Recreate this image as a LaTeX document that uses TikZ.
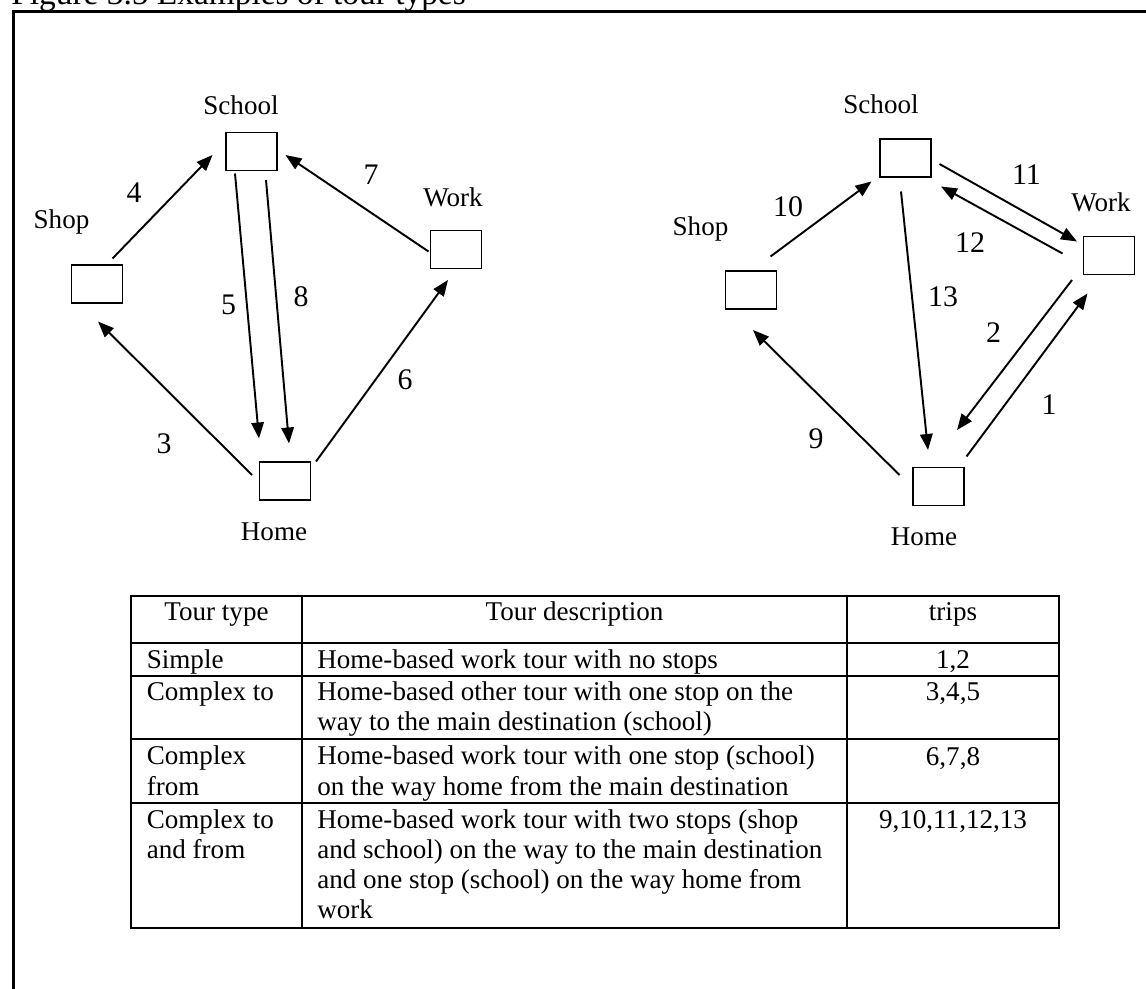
\documentclass[tikz,border=0pt]{standalone}
\usepackage{fontspec}
\setmainfont{Liberation Serif}
\usetikzlibrary{arrows.meta}

\tikzset{
  stopbox/.style={draw,line width=1.1pt,minimum width=1.02cm,minimum height=0.76cm,inner sep=0pt},
  placelabel/.style={font=\fontsize{15.4}{17}\selectfont,anchor=base,inner sep=0pt},
  tripnum/.style={font=\fontsize{17}{17}\selectfont,anchor=base,inner sep=0pt},
  triparrow/.style={-{Triangle[length=0.32cm,width=0.25cm]},line width=1.1pt},
  % multi-line cells sit on the baseline of their last line
  cell/.style={font=\fontsize{15.4}{17.1}\selectfont,anchor=base west,align=left,inner sep=0pt},
  cellc/.style={font=\fontsize{15.4}{17.1}\selectfont,anchor=base,inner sep=0pt},
  rule/.style={line width=1.2pt}
}

\begin{document}
\begin{tikzpicture}
  \useasboundingbox (0,0) rectangle (22.92,19.76);

  % caption and frame
  \node[anchor=base west,font=\fontsize{19}{20}\selectfont,inner sep=0pt] (caption) at (0.22,19.67) {Figure 3.5 Examples of tour types};
  \draw[line width=1.7pt] (0.27,-0.5) -- (0.27,19.53) -- (23.5,19.53);

  % left tour: 3..8
  \node[stopbox] (schoolL) at (5.03,16.73) {};
  \node[stopbox] (shopL)   at (1.94,14.08) {};
  \node[stopbox] (workL)   at (9.12,14.77) {};
  \node[stopbox] (homeL)   at (5.70,10.14) {};
  \node[placelabel] (schoolLtxt) at (4.82,17.46) {School};
  \node[placelabel] (shopLtxt)   at (1.23,15.18) {Shop};
  \node[placelabel] (workLtxt)   at (9.06,15.62) {Work};
  \node[placelabel] (homeLtxt)   at (5.48,8.96)  {Home};

  \draw[triparrow] ([shift={(0.31,0.51)}]shopL.center) -- ([shift={(-0.78,-0.07)}]schoolL.center);
  \draw[triparrow] ([shift={(-0.55,-0.04)}]workL.center) -- ([shift={(0.68,-0.07)}]schoolL.center);
  \draw[triparrow] ([shift={(-0.33,-0.44)}]schoolL.center) -- ([shift={(-0.52,0.85)}]homeL.center);
  \draw[triparrow] ([shift={(0.29,-0.57)}]schoolL.center) -- ([shift={(0.08,0.75)}]homeL.center);
  \draw[triparrow] ([shift={(-0.66,0.12)}]homeL.center) -- ([shift={(0.02,-0.75)}]shopL.center);
  \draw[triparrow] ([shift={(0.62,0.39)}]homeL.center) -- ([shift={(-0.16,-0.61)}]workL.center);

  \node[tripnum] (n4) at (2.68,15.70) {4};
  \node[tripnum] (n7) at (7.42,16.06) {7};
  \node[tripnum] (n5) at (4.57,13.46) {5};
  \node[tripnum] (n8) at (6.02,13.62) {8};
  \node[tripnum] (n3) at (3.28,10.70) {3};
  \node[tripnum] (n6) at (8.10,11.96) {6};

  % right tour: 1,2 and 9..13
  \node[stopbox] (schoolR) at (18.11,16.60) {};
  \node[stopbox] (shopR)   at (15.02,13.96) {};
  \node[stopbox] (workR)   at (22.18,14.65) {};
  \node[stopbox] (homeR)   at (18.77,10.03) {};
  \node[placelabel] (schoolRtxt) at (17.62,17.49) {School};
  \node[placelabel] (shopRtxt)   at (14.01,15.04) {Shop};
  \node[placelabel] (workRtxt)   at (22.02,15.53) {Work};
  \node[placelabel] (homeRtxt)   at (18.48,8.86)  {Home};

  \draw[triparrow] ([shift={(0.39,0.67)}]shopR.center) -- ([shift={(-0.68,-0.47)}]schoolR.center);
  \draw[triparrow] ([shift={(0.68,-0.12)}]schoolR.center) -- ([shift={(-0.64,0.28)}]workR.center);
  \draw[triparrow] ([shift={(-0.93,0.04)}]workR.center) -- ([shift={(0.71,-0.57)}]schoolR.center);
  \draw[triparrow] ([shift={(-0.09,-0.67)}]schoolR.center) -- ([shift={(-0.21,0.73)}]homeR.center);
  \draw[triparrow] ([shift={(-0.74,-0.49)}]workR.center) -- ([shift={(0.37,1.13)}]homeR.center);
  \draw[triparrow] ([shift={(0.56,0.60)}]homeR.center) -- ([shift={(-0.43,-0.76)}]workR.center);
  \draw[triparrow] ([shift={(-0.78,0.23)}]homeR.center) -- ([shift={(0.04,-0.80)}]shopR.center);

  \node[tripnum] (n10) at (15.76,15.42) {10};
  \node[tripnum] (n11) at (20.53,16.06) {11};
  \node[tripnum] (n12) at (19.40,14.70) {12};
  \node[tripnum] (n13) at (18.86,13.62) {13};
  \node[tripnum] (n2)  at (19.87,12.90) {2};
  \node[tripnum] (n1)  at (20.98,11.46) {1};
  \node[tripnum] (n9)  at (16.32,10.80) {9};

  % table of tour types
  \draw[rule] (2.62,7.84) rectangle (21.18,1.20);
  \foreach \x in {6.04,16.94}
    \draw[rule] (\x,7.84) -- (\x,1.20);
  \foreach \y in {6.90,6.24,4.98,3.70}
    \draw[rule] (2.62,\y) -- (21.18,\y);

  \node[cellc] (hdtype)  at (4.33,7.36)  {Tour type};
  \node[cellc] (hddesc)  at (11.49,7.36) {Tour description};
  \node[cellc] (hdtrips) at (19.06,7.36) {trips};

  \node[cell] (type1) at (2.93,6.39) {Simple};
  \node[cell] (type2) at (2.93,5.75) {Complex to};
  \node[cell] (type3) at (2.93,3.86) {Complex\\from};
  \node[cell] (type4) at (2.93,2.59) {Complex to\\and from};

  \node[cell] (desc1) at (6.34,6.39) {Home-based work tour with no stops};
  \node[cell] (desc2) at (6.34,5.15) {Home-based other tour with one stop on the\\way to the main destination (school)};
  \node[cell] (desc3) at (6.34,3.86) {Home-based work tour with one stop (school)\\on the way home from the main destination};
  \node[cell] (desc4) at (6.34,1.39) {Home-based work tour with two stops (shop\\and school) on the way to the main destination\\and one stop (school) on the way home from\\work};

  \node[cellc] (trips1) at (19.06,6.39) {1,2};
  \node[cellc] (trips2) at (19.06,5.75) {3,4,5};
  \node[cellc] (trips3) at (19.06,4.46) {6,7,8};
  \node[cellc] (trips4) at (19.06,3.19) {9,10,11,12,13};
\end{tikzpicture}
\end{document}
